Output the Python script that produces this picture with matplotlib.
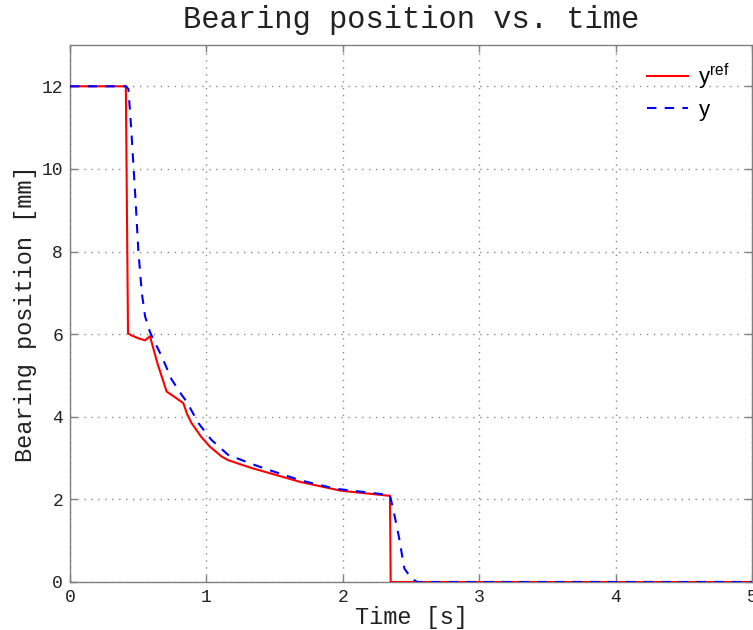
import matplotlib.pyplot as plt
from matplotlib.lines import Line2D

t_ref = [0, 0.409, 0.425, 0.45, 0.50, 0.55, 0.586, 0.64, 0.708, 0.77, 0.83,
         0.86, 0.89, 0.96, 1.024, 1.11, 1.158, 1.33, 1.5, 1.69, 1.985, 2.33,
         2.345, 2.35, 5.0]
y_ref = [12, 12, 6.02, 5.97, 5.9, 5.85, 5.95, 5.3, 4.61, 4.47, 4.33,
         4.05, 3.85, 3.52, 3.28, 3.04, 2.95, 2.76, 2.6, 2.42, 2.21, 2.09,
         2.09, 0, 0]

t_y = [0, 0.41, 0.428, 0.447, 0.465, 0.484, 0.50, 0.526, 0.55, 0.586, 0.60,
       0.672, 0.745, 0.818, 0.854, 0.94, 1.036, 1.158, 1.33, 1.45, 1.69,
       1.94, 2.33, 2.345, 2.375, 2.41, 2.45, 2.5, 2.545, 5.0]
y_y = [12, 12, 11.93, 11.04, 10.07, 9.02, 8.05, 7.0, 6.43, 6.05, 5.95,
       5.46, 4.9, 4.53, 4.37, 3.85, 3.44, 3.08, 2.86, 2.72, 2.46,
       2.26, 2.11, 2.1, 1.66, 1.1, 0.33, 0.09, 0.0, 0.0]

x_ticks = [0, 1, 2, 3, 4, 5]
y_ticks = [0, 2, 4, 6, 8, 10, 12]

mono = 'Liberation Mono'
gray = '#7f7f7f'
dash = (0, (4.5, 4))

fig = plt.figure(figsize=(7.53, 6.30), dpi=100)
ax = fig.add_axes([0.093, 0.0762, 0.906, 0.8524])

ax.plot(t_ref, y_ref, color='#ff0000', lw=1.5, zorder=3)
ax.plot(t_y, y_y, color='#0000ff', lw=1.5, linestyle=dash, zorder=4)

ax.set_xlim(0, 5)
ax.set_ylim(0, 13)
ax.set_xticks(x_ticks)
ax.set_yticks(y_ticks)
ax.set_xticklabels([str(v) for v in x_ticks], fontname=mono, fontsize=13)
ax.set_yticklabels([str(v) for v in y_ticks], fontname=mono, fontsize=13)

# MATLAB-ish look: gray box, inward ticks on all sides, dotted grid
for s in ax.spines.values():
    s.set_color(gray)
    s.set_linewidth(1.0)
ax.tick_params(axis='both', direction='in', length=5, width=1, color=gray,
               top=True, right=True, labelcolor='#222222', pad=5)
ax.grid(True, linestyle=(0, (1, 4)), color='#888888', linewidth=1.0)

ax.set_title('Bearing position vs. time', fontname=mono, fontsize=22, pad=12,
             color='#222222')
ax.set_xlabel('Time [s]', fontname=mono, fontsize=17, labelpad=0, color='#222222')
ax.set_ylabel('Bearing position [mm]', fontname=mono, fontsize=17, labelpad=3,
              color='#222222')

handles = [Line2D([], [], color='#ff0000', lw=1.5),
           Line2D([], [], color='#0000ff', lw=1.5, linestyle=dash)]
leg = ax.legend(handles, [r'y$^{\mathregular{ref}}$', 'y'], loc='upper right',
                bbox_to_anchor=(1.0, 1.01), frameon=False,
                prop={'family': 'Liberation Sans', 'size': 16},
                handlelength=1.85, handletextpad=0.45, borderaxespad=0.6,
                labelspacing=0.35)

fig.savefig('out.png', dpi=100)
